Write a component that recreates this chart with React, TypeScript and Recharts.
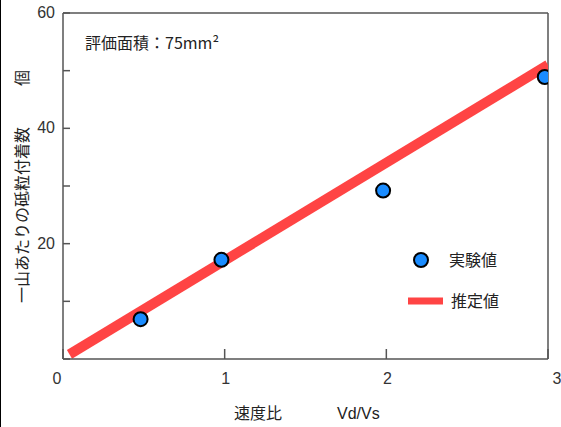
import React from 'react';
import { ComposedChart, Line, Scatter, XAxis, YAxis, ReferenceLine } from 'recharts';

// measured points (速度比, count)
const expX = [0.48, 0.98, 1.98, 2.98];
const expY = [6.9, 17.2, 29.2, 48.9];
// fitted line end points
const fitX = [0.04, 3];
const fitY = [0.8, 51];

const xTicks = [0, 1, 2, 3];
const yTicks = [0, 10, 20, 30, 40, 50, 60];
const yLabelled = [20, 40, 60];

const expData = expX.map((x, i) => ({ x, y: expY[i] }));
const fitData = fitX.map((x, i) => ({ x, y: fitY[i] }));

const JP = '"Noto Sans CJK JP", "Noto Sans", sans-serif';
const NUM = '"Liberation Sans", Arial, sans-serif';
const AXIS = '#555';
const BLUE = '#1a8cff';
const RED = '#ff4444';

const YTick = ({ x, y, payload }: any) => (
  <g>
    <line x1={x} x2={x + 7} y1={y} y2={y} stroke={AXIS} strokeWidth={1.5} />
    {yLabelled.includes(payload.value) && (
      <text x={x - 8} y={y} dy={5} textAnchor="end" fontSize={16} fontFamily={NUM} fill="#333">
        {payload.value}
      </text>
    )}
  </g>
);

const XTick = ({ x, y, payload }: any) => {
  const shift = payload.value === 0 ? -6 : payload.value === 3 ? 9 : 1;
  return (
    <g>
      <line x1={x} x2={x} y1={y} y2={y - 10} stroke={AXIS} strokeWidth={1.5} />
      <text x={x + shift} y={y + 25} textAnchor="middle" fontSize={16} fontFamily={NUM} fill="#333">
        {payload.value}
      </text>
    </g>
  );
};

const Dot = (p: any) => <circle cx={p.cx} cy={p.cy} r={7} fill={BLUE} stroke="#000" strokeWidth={2} />;

export default function App() {
  return (
    <div style={{ position: 'absolute', left: 0, top: 0, width: 561, height: 427, background: '#fff', borderLeft: '1px solid #000', boxSizing: 'border-box', overflow: 'hidden' }}>
      <ComposedChart width={560} height={427} margin={{ top: 13, right: 13, bottom: 28, left: 0 }}>
        <XAxis
          dataKey="x"
          type="number"
          domain={[0, 3]}
          ticks={xTicks}
          allowDataOverflow
          height={40}
          tickSize={0}
          tickMargin={0}
          tickLine={false}
          axisLine={{ stroke: AXIS, strokeWidth: 1.5 }}
          tick={<XTick />}
        />
        <YAxis
          dataKey="y"
          type="number"
          domain={[0, 60]}
          ticks={yTicks}
          allowDataOverflow
          width={62}
          tickSize={0}
          tickMargin={0}
          tickLine={false}
          axisLine={{ stroke: AXIS, strokeWidth: 1.5 }}
          tick={<YTick />}
        />
        <ReferenceLine y={60} stroke={AXIS} strokeWidth={1.5} />
        <ReferenceLine x={3} stroke={AXIS} strokeWidth={1.5} />
        <Line data={fitData} dataKey="y" stroke={RED} strokeWidth={10} dot={false} activeDot={false} isAnimationActive={false} />
        <Scatter data={expData} dataKey="y" shape={<Dot />} isAnimationActive={false} />
      </ComposedChart>

      <svg width={561} height={427} style={{ position: 'absolute', left: -1, top: 0, pointerEvents: 'none' }}>
        <text x={85} y={49} fontSize={16} fontFamily={JP} fill="#222">評価面積：75mm²</text>
        <g transform="translate(28, 215) rotate(-90)">
          <text textAnchor="middle" fontSize={16} fontFamily={JP} fill="#222">一山あたりの砥粒付着数</text>
        </g>
        <g transform="translate(28, 78) rotate(-90)">
          <text textAnchor="middle" fontSize={16} fontFamily={JP} fill="#222">個</text>
        </g>
        <text x={234} y={419} fontSize={16} fontFamily={JP} fill="#222">速度比</text>
        <text x={337} y={419} fontSize={16} fontFamily={NUM} fill="#222">Vd/Vs</text>

        <circle cx={421} cy={260} r={7} fill={BLUE} stroke="#000" strokeWidth={2} />
        <text x={449} y={266} fontSize={16} fontFamily={JP} fill="#222">実験値</text>
        <line x1={408} x2={443} y1={301} y2={301} stroke={RED} strokeWidth={7} />
        <text x={451} y={307} fontSize={16} fontFamily={JP} fill="#222">推定値</text>
      </svg>
    </div>
  );
}
